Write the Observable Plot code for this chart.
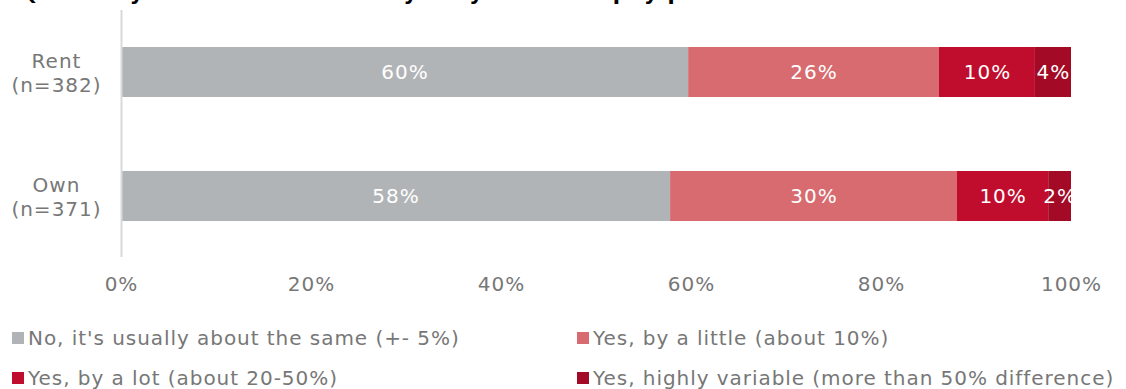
<!DOCTYPE html>
<html>
<head>
<meta charset="utf-8">
<script src="https://cdn.jsdelivr.net/npm/d3@7"></script>
<script src="https://cdn.jsdelivr.net/npm/@observablehq/plot@0.6"></script>
<style>
  html, body { margin: 0; padding: 0; background: #fff; overflow: hidden; }
  body { width: 1126px; height: 389px; position: relative; font-family: "DejaVu Sans", Verdana, sans-serif; }
  #title { position: absolute; left: 20px; top: -19px; font-size: 21px; font-weight: bold; color: #000; white-space: nowrap; letter-spacing: 1.3px; }
  #chart { position: absolute; left: 0; top: 0; }
  #chart svg text { letter-spacing: 1px; }
  #legend { position: absolute; left: 12px; top: 318px; width: 1114px; display: grid; grid-template-columns: 565px 540px; row-gap: 0; }
  .item { display: flex; align-items: center; height: 40px; font-size: 20px; color: #777777; white-space: nowrap; letter-spacing: 0.95px; }
  .sw { width: 12px; height: 12px; margin-right: 4px; flex: none; }
</style>
</head>
<body>
<div id="title">Q: Does your income currently vary between pay periods?</div>
<div id="chart"></div>
<div id="legend"></div>
<script>
const groups = ["Rent\n(n=382)", "Own\n(n=371)"];
const categories = [
  "No, it's usually about the same (+- 5%)",
  "Yes, by a little (about 10%)",
  "Yes, by a lot (about 20-50%)",
  "Yes, highly variable (more than 50% difference)"
];
const colors = ["#B1B4B7", "#D76B70", "#C00D2D", "#A30A26"];
const rentValues = [59.7, 26.4, 10.1, 3.8];
const ownValues = [57.8, 30.2, 9.6, 2.4];
const xTicks = [0, 20, 40, 60, 80, 100];

const seriesValues = [rentValues, ownValues];
const table = [];
groups.forEach((g, gi) => {
  categories.forEach((c, ci) => {
    table.push({group: g, category: c, value: seriesValues[gi][ci]});
  });
});

const plot = Plot.plot({
  width: 1126,
  height: 310,
  marginLeft: 121,
  marginRight: 55,
  marginTop: 10,
  marginBottom: 53,
  style: {fontFamily: "'DejaVu Sans', Verdana, sans-serif", fontSize: "20px", background: "transparent"},
  x: {domain: [0, 100], axis: null, label: null},
  y: {domain: groups, axis: null, paddingInner: 0.597, paddingOuter: 0.294},
  color: {domain: categories, range: colors},
  marks: [
    Plot.barX(table, Plot.stackX({x: "value", y: "group", z: "category", fill: "category", order: categories})),
    Plot.ruleX([0], {stroke: "#D9D9D9", strokeWidth: 2}),
    Plot.text(table, Plot.stackX({x: "value", y: "group", z: "category", order: categories,
      text: d => Math.round(d.value) + "%", fill: "white", fontSize: 20})),
    Plot.text(groups, {x: 0, y: d => d, text: d => d, dx: -65, textAnchor: "middle", fill: "#777777", fontSize: 20, lineHeight: 1.2}),
    Plot.axisX({ticks: xTicks, tickSize: 0, tickPadding: 19, tickFormat: d => d + "%", fill: "#777777", fontSize: 20, label: null})
  ]
});
document.getElementById("chart").appendChild(plot);

const legend = document.getElementById("legend");
categories.forEach((c, i) => {
  const item = document.createElement("div");
  item.className = "item";
  const sw = document.createElement("span");
  sw.className = "sw";
  sw.style.background = colors[i];
  const t = document.createElement("span");
  t.textContent = c;
  item.appendChild(sw);
  item.appendChild(t);
  legend.appendChild(item);
});
</script>
</body>
</html>
